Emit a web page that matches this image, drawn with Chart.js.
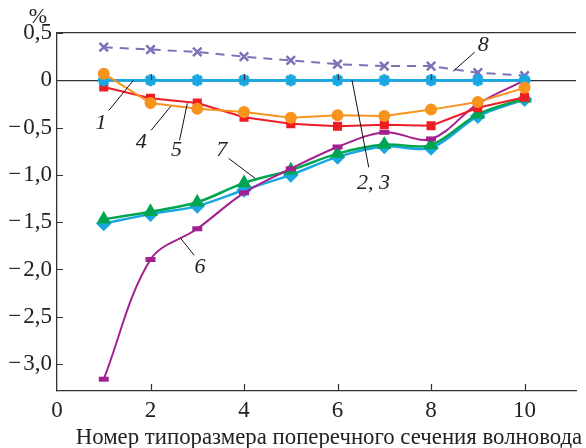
<!DOCTYPE html>
<html>
<head>
<meta charset="utf-8">
<script src="https://cdn.jsdelivr.net/npm/chart.js@4.4.1/dist/chart.umd.min.js"></script>
<style>
  html, body { margin: 0; padding: 0; background: #fff; }
  #wrap { width: 586px; height: 448px; }
</style>
</head>
<body>
<div id="wrap"><canvas id="chart" width="586" height="448"></canvas></div>
<script>
// ─── ДАННЫЕ ────────────────────────────────────────────────────────────────
const sizes = [1, 2, 3, 4, 5, 6, 7, 8, 9, 10];

const s1  = [0, 0, 0, 0, 0, 0, 0, 0, 0, 0];
const s2  = [0, 0, 0, 0, 0, 0, 0, 0, 0, 0];
const s3  = [0, 0, 0, 0, 0, 0, 0, 0, 0, 0];
const s4  = [0.07, -0.24, -0.30, -0.335, -0.395, -0.37, -0.377, -0.31, -0.23, -0.08];
const s5  = [-0.07, -0.19, -0.24, -0.39, -0.46, -0.486, -0.47, -0.48, -0.29, -0.18];
const s6  = [-3.16, -1.895, -1.57, -1.19, -0.935, -0.705, -0.55, -0.62, -0.25, 0.0];
const s7  = [-1.47, -1.39, -1.29, -1.085, -0.95, -0.775, -0.68, -0.685, -0.36, -0.19];
const s7b = [-1.515, -1.415, -1.33, -1.16, -1.0, -0.81, -0.70, -0.715, -0.38, -0.20];
const s8  = [0.35, 0.325, 0.30, 0.25, 0.21, 0.17, 0.15, 0.15, 0.08, 0.05];

const xTicks = [0, 2, 4, 6, 8, 10];
const yTicks = [0.5, 0, -0.5, -1.0, -1.5, -2.0, -2.5, -3.0];
const yTickLabels = ['0,5', '0', '\u2212\u200a0,5', '\u2212\u200a1,0', '\u2212\u200a1,5',
                     '\u2212\u200a2,0', '\u2212\u200a2,5', '\u2212\u200a3,0'];

const xTitle = 'Номер типоразмера поперечного сечения волновода';
const yUnit  = '%';

// подписи кривых: текст, позиция текста и выноска (в единицах осей)
const notes = [
  { text: '1',    at: [0.943, -0.455], from: [1.111, -0.317], to: [1.635, 0] },
  { text: '4',    at: [1.803, -0.655], from: [2.013, -0.529], to: [2.432, -0.275] },
  { text: '5',    at: [2.558, -0.740], from: [2.621, -0.634], to: [2.788, -0.243] },
  { text: '7',    at: [3.522, -0.740], from: [3.669, -0.825], to: [4.235, -1.036] },
  { text: '6',    at: [3.061, -1.977], from: [2.642, -1.670], to: [2.935, -1.850] },
  { text: '2, 3', at: [6.771, -1.089], from: [6.310, 0],      to: [6.667, -0.920] },
  { text: '8',    at: [9.119, 0.370],  from: [8.931, 0.296],  to: [8.470, 0.095] }
];

const pts = arr => arr.map((v, i) => ({ x: sizes[i], y: v }));
const SERIF = '"Times New Roman", "Liberation Serif", Tinos, "Noto Serif", "DejaVu Serif", serif';

// ─── ЗАСЕЧКИ, ПОДПИСИ, ЗАГОЛОВОК ───────────────────────────────────────────
const decorations = {
  id: 'decorations',
  afterDatasetsDraw(chart) {
    const { ctx, scales: { x, y }, chartArea: a } = chart;
    const y0 = y.getPixelForValue(0);
    ctx.save();
    ctx.strokeStyle = '#333';
    ctx.lineWidth = 1.2;
    ctx.beginPath();
    xTicks.forEach(v => {
      if (v === 0) return;
      const px = Math.round(x.getPixelForValue(v)) + 0.5;
      ctx.moveTo(px, a.bottom);
      ctx.lineTo(px, a.bottom - 7);
      if (v < 10) {
        ctx.moveTo(px, y0);
        ctx.lineTo(px, y0 - 6);
      }
    });
    yTicks.forEach(v => {
      const py = Math.round(y.getPixelForValue(v)) + 0.5;
      ctx.moveTo(a.left, py);
      ctx.lineTo(a.left + 6, py);
    });
    ctx.stroke();

    // выноски
    ctx.strokeStyle = '#111';
    ctx.lineWidth = 1;
    ctx.beginPath();
    notes.forEach(n => {
      ctx.moveTo(x.getPixelForValue(n.from[0]), y.getPixelForValue(n.from[1]));
      ctx.lineTo(x.getPixelForValue(n.to[0]), y.getPixelForValue(n.to[1]));
    });
    ctx.stroke();

    ctx.fillStyle = '#222';
    ctx.font = 'italic 22px ' + SERIF;
    ctx.textAlign = 'center';
    ctx.textBaseline = 'middle';
    notes.forEach(n => {
      ctx.fillText(n.text, x.getPixelForValue(n.at[0]), y.getPixelForValue(n.at[1]));
    });

    ctx.font = '22px ' + SERIF;
    ctx.fillText(yUnit, 38, 17);
    ctx.font = '22.8px ' + SERIF;
    ctx.fillText(xTitle, 329, 438, 510);
    ctx.restore();
  }
};

// ─── ГРАФИК ────────────────────────────────────────────────────────────────
const ctx = document.getElementById('chart').getContext('2d');

new Chart(ctx, {
  type: 'line',
  data: {
    datasets: [
      { label: '4', data: pts(s4), borderColor: '#f7941d', backgroundColor: '#f7941d',
        borderWidth: 2, pointStyle: 'circle', pointRadius: 5, tension: 0 },
      { label: '1', data: pts(s1), borderColor: '#1aa7e1', backgroundColor: '#1aa7e1',
        borderWidth: 2.5, pointStyle: 'star', pointRadius: 6, pointBorderWidth: 3.5, tension: 0 },
      { label: '5', data: pts(s5), borderColor: '#ee1c25', backgroundColor: '#ee1c25',
        borderWidth: 2, pointStyle: 'rect', pointRadius: 5, tension: 0 },
      { label: '6', data: pts(s6), borderColor: '#a3208f', backgroundColor: '#a3208f',
        borderWidth: 2, pointStyle: 'line', pointRadius: 5, pointBorderWidth: 5, tension: 0.35 },
      { label: '7', data: pts(s7), borderColor: '#00a551', backgroundColor: '#00a551',
        borderWidth: 2.5, pointStyle: 'triangle', pointRadius: 6, tension: 0.3 },
      { label: '7a', data: pts(s7b), borderColor: '#1aa7e1', backgroundColor: '#1aa7e1',
        borderWidth: 2.5, pointStyle: 'rectRot', pointRadius: 6, tension: 0.3 },
      { label: '8', data: pts(s8), borderColor: '#7a72b7', backgroundColor: '#7a72b7',
        borderWidth: 2, borderDash: [9, 7], pointStyle: 'crossRot', pointRadius: 6,
        pointBorderWidth: 2.5, tension: 0 },
      { label: '2', data: pts(s2), borderColor: '#1aa7e1', backgroundColor: '#1aa7e1',
        borderWidth: 2.5, pointRadius: 0, tension: 0 },
      { label: '3', data: pts(s3), borderColor: '#1aa7e1', backgroundColor: '#1aa7e1',
        borderWidth: 2.5, pointRadius: 0, tension: 0 }
    ]
  },
  options: {
    responsive: false,
    devicePixelRatio: 1,
    animation: false,
    layout: { padding: { top: 33, right: 0, left: 0, bottom: 0 } },
    plugins: { legend: { display: false }, tooltip: { enabled: false } },
    scales: {
      x: {
        type: 'linear', min: 0, max: 11.1,
        afterFit: s => { s.height = 57; },
        afterBuildTicks: s => { s.ticks = xTicks.map(v => ({ value: v })); },
        grid: { display: true, drawOnChartArea: false, drawTicks: false, color: '#333' },
        border: { display: true, color: '#333', width: 1.3 },
        ticks: { font: { family: SERIF, size: 23 }, color: '#222', padding: 6, maxRotation: 0 }
      },
      y: {
        type: 'linear', min: -3.285, max: 0.5,
        afterFit: s => { s.width = 57; },
        afterBuildTicks: s => { s.ticks = yTicks.map(v => ({ value: v })); },
        grid: {
          drawTicks: false,
          color: c => (c.tick && (c.tick.value === 0 || c.tick.value === 0.5)) ? '#333' : 'rgba(0,0,0,0)',
          lineWidth: 1.2
        },
        border: { display: true, color: '#333', width: 1.3 },
        ticks: {
          font: { family: SERIF, size: 23 }, color: '#222', padding: 5,
          callback: (v, i) => yTickLabels[i]
        }
      }
    }
  },
  plugins: [decorations]
});
</script>
</body>
</html>
